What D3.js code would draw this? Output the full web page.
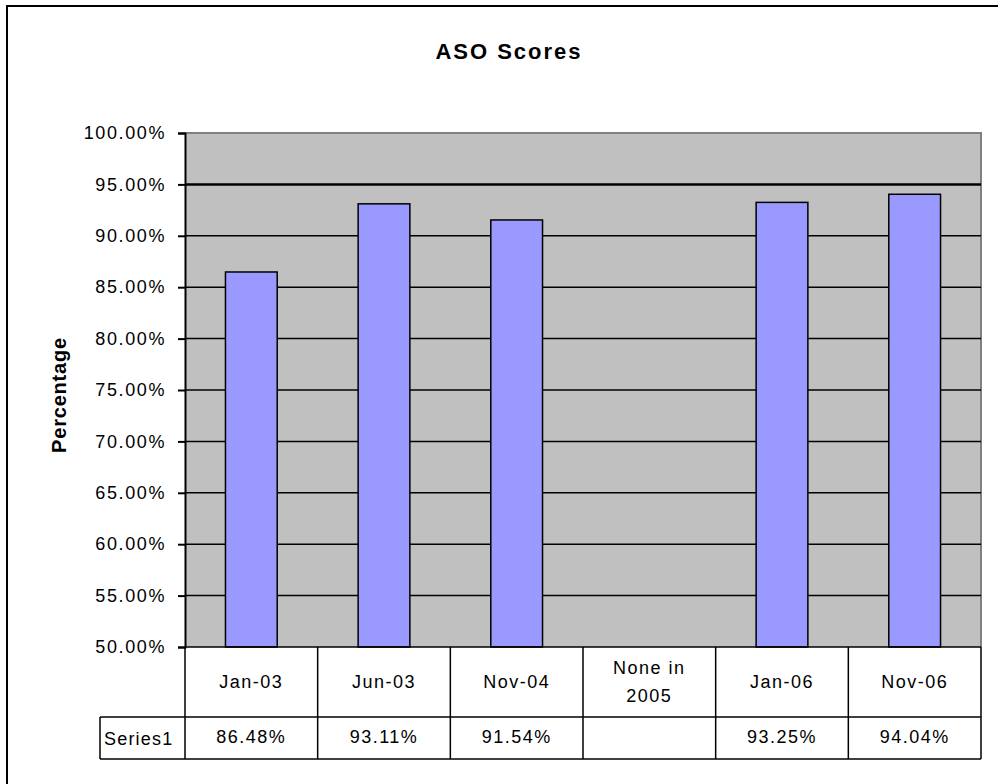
<!DOCTYPE html>
<html>
<head>
<meta charset="utf-8">
<script src="https://cdn.jsdelivr.net/npm/d3@7"></script>
<style>
  html, body { margin: 0; padding: 0; background: #fff; }
  svg { display: block; font-family: "Liberation Sans", Arial, sans-serif; }
</style>
</head>
<body>
<svg id="chart" width="998" height="784"></svg>
<script>
// Survey results by date
const categories = ["Jan-03", "Jun-03", "Nov-04", "None in\n2005", "Jan-06", "Nov-06"];
const scores = [0.8648, 0.9311, 0.9154, null, 0.9325, 0.9404];
const seriesName = "Series1";
const yTicks = [0.50, 0.55, 0.60, 0.65, 0.70, 0.75, 0.80, 0.85, 0.90, 0.95, 1.00];
const highlightTick = 0.95;

const svg = d3.select("#chart");

const plot = { left: 185, right: 981, top: 133, bottom: 647 };
const table = { catBottom: 717, rowBottom: 759, labelLeft: 100 };

// Outer chart frame
svg.append("rect")
  .attr("x", 7).attr("y", 6)
  .attr("width", 1010).attr("height", 800)
  .attr("fill", "#fff").attr("stroke", "#000").attr("stroke-width", 2);

// Title
svg.append("text")
  .attr("x", 509).attr("y", 59)
  .attr("text-anchor", "middle")
  .attr("font-size", 22).attr("font-weight", "bold")
  .attr("letter-spacing", 2)
  .text("ASO Scores");

const x = d3.scaleBand()
  .domain(categories)
  .range([plot.left, plot.right])
  .paddingInner(0)
  .paddingOuter(0);

const xBar = d3.scaleBand()
  .domain(categories)
  .range([plot.left, plot.right])
  .paddingInner(0.61)
  .paddingOuter(0.305);

const y = d3.scaleLinear()
  .domain([0.5, 1.0])
  .range([plot.bottom, plot.top]);

// Plot background
svg.append("rect")
  .attr("x", plot.left).attr("y", plot.top)
  .attr("width", plot.right - plot.left).attr("height", plot.bottom - plot.top)
  .attr("fill", "#C0C0C0");

// Plot frame (top and right edges)
svg.append("path")
  .attr("d", `M${plot.left},${plot.top}H${plot.right}V${plot.bottom}`)
  .attr("fill", "none").attr("stroke", "#808080").attr("stroke-width", 2);

// Gridlines
svg.append("g")
  .selectAll("line")
  .data(yTicks.filter(t => t > 0.5 && t < 1.0))
  .join("line")
  .attr("x1", plot.left).attr("x2", plot.right)
  .attr("y1", d => y(d)).attr("y2", d => y(d))
  .attr("stroke", "#000")
  .attr("stroke-width", d => Math.abs(d - highlightTick) < 1e-9 ? 2.5 : 1.5);

// Bars
svg.append("g")
  .selectAll("rect")
  .data(categories.map((c, i) => ({ c, v: scores[i] })).filter(d => d.v != null))
  .join("rect")
  .attr("x", d => xBar(d.c))
  .attr("y", d => y(d.v))
  .attr("width", xBar.bandwidth())
  .attr("height", d => y(0.5) - y(d.v))
  .attr("fill", "#9999FF")
  .attr("stroke", "#000")
  .attr("stroke-width", 1.5);

// Y axis
const yAxis = d3.axisLeft(y)
  .tickValues(yTicks)
  .tickSize(7)
  .tickPadding(12)
  .tickFormat(d3.format(".2%"));

const gy = svg.append("g")
  .attr("transform", `translate(${plot.left},0)`)
  .call(yAxis);
gy.select(".domain").attr("stroke", "#000").attr("stroke-width", 2);
gy.selectAll(".tick line").attr("stroke", "#000").attr("stroke-width", 2);
gy.selectAll(".tick text")
  .attr("font-family", "\"Liberation Sans\", Arial, sans-serif")
  .attr("font-size", 18)
  .attr("letter-spacing", 1.6)
  .attr("fill", "#000");

// Y axis title
svg.append("text")
  .attr("transform", `translate(66,395) rotate(-90)`)
  .attr("text-anchor", "middle")
  .attr("font-size", 20).attr("font-weight", "bold")
  .attr("letter-spacing", 0.8)
  .text("Percentage");

// Data table
const tg = svg.append("g")
  .attr("fill", "none").attr("stroke", "#000").attr("stroke-width", 1.5);

// horizontal rules
tg.append("line").attr("x1", plot.left).attr("x2", plot.right)
  .attr("y1", plot.bottom).attr("y2", plot.bottom);
tg.append("line").attr("x1", table.labelLeft).attr("x2", plot.right)
  .attr("y1", table.catBottom).attr("y2", table.catBottom);
tg.append("line").attr("x1", table.labelLeft).attr("x2", plot.right)
  .attr("y1", table.rowBottom).attr("y2", table.rowBottom);

// vertical rules
const colEdges = categories.map(c => x(c)).concat([plot.right]);
tg.selectAll("line.col")
  .data(colEdges)
  .join("line")
  .attr("class", "col")
  .attr("x1", d => d).attr("x2", d => d)
  .attr("y1", plot.bottom).attr("y2", table.rowBottom);
tg.append("line").attr("x1", table.labelLeft).attr("x2", table.labelLeft)
  .attr("y1", table.catBottom).attr("y2", table.rowBottom);

// category labels
const catG = svg.append("g")
  .attr("font-size", 18).attr("letter-spacing", 1.5)
  .attr("text-anchor", "middle").attr("fill", "#000");
categories.forEach(c => {
  const lines = c.split("\n");
  const cx = x(c) + x.bandwidth() / 2;
  const cy = (plot.bottom + table.catBottom) / 2;
  const lh = 28;
  const t = catG.append("text").attr("x", cx);
  lines.forEach((ln, i) => {
    t.append("tspan")
      .attr("x", cx)
      .attr("y", cy + (i - (lines.length - 1) / 2) * lh)
      .attr("dy", "0.35em")
      .text(ln);
  });
});

// series row
const rowY = (table.catBottom + table.rowBottom) / 2;
svg.append("text")
  .attr("x", table.labelLeft + 4).attr("y", rowY).attr("dy", "0.4em")
  .attr("font-size", 18).attr("letter-spacing", 1.2)
  .text(seriesName);

svg.append("g")
  .attr("font-size", 18).attr("letter-spacing", 1.5)
  .attr("text-anchor", "middle")
  .selectAll("text")
  .data(categories.map((c, i) => ({ c, v: scores[i] })).filter(d => d.v != null))
  .join("text")
  .attr("x", d => x(d.c) + x.bandwidth() / 2)
  .attr("y", rowY).attr("dy", "0.3em")
  .text(d => d3.format(".2%")(d.v));
</script>
</body>
</html>
